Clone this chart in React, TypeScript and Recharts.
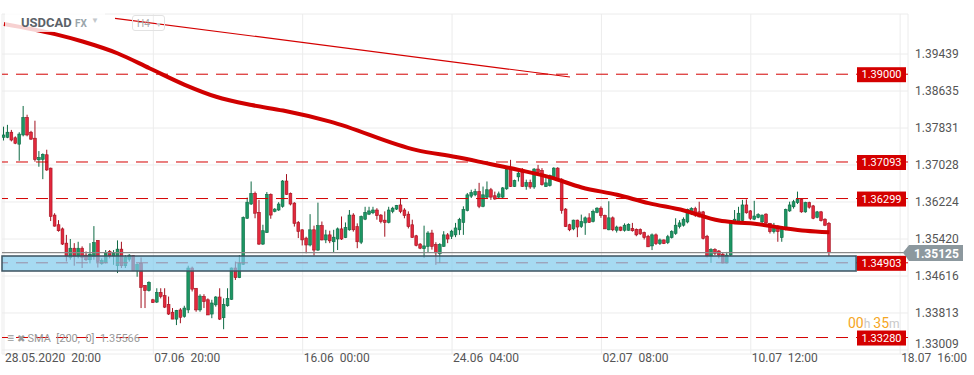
import React from 'react';
import {
  ComposedChart,
  Bar,
  Line,
  XAxis,
  YAxis,
  CartesianGrid,
  ReferenceLine,
  ReferenceArea,
} from 'recharts';

// H4 candles, USDCAD, one entry per bar (weekend bars skipped)
const OPEN = [
  1.3763, 1.3763, 1.3774, 1.3762, 1.3748, 1.3768, 1.3806, 1.3774, 1.3761, 1.3714,
  1.3715, 1.3725, 1.3696, 1.3594, 1.3573, 1.3564, 1.3533, 1.3502, 1.3522, 1.3504,
  1.3522, 1.3507, 1.3497, 1.3504, 1.3539, 1.3489, 1.3491, 1.3515, 1.3505, 1.3484,
  1.3520, 1.3484, 1.3498, 1.3506, 1.3473, 1.3489, 1.3441, 1.3430, 1.3410, 1.3405,
  1.3426, 1.3419, 1.3400, 1.3383, 1.3368, 1.3388, 1.3374, 1.3388, 1.3479, 1.3435,
  1.3388, 1.3417, 1.3410, 1.3379, 1.3399, 1.3416, 1.3371, 1.3397, 1.3411, 1.3479,
  1.3458, 1.3487, 1.3587, 1.3618, 1.3641, 1.3600, 1.3531, 1.3556, 1.3639, 1.3602,
  1.3605, 1.3613, 1.3668, 1.3641, 1.3620, 1.3578, 1.3562, 1.3544, 1.3529, 1.3562,
  1.3518, 1.3571, 1.3540, 1.3551, 1.3536, 1.3542, 1.3564, 1.3545, 1.3562, 1.3594,
  1.3569, 1.3535, 1.3585, 1.3596, 1.3599, 1.3605, 1.3594, 1.3583, 1.3578, 1.3602,
  1.3607, 1.3616, 1.3605, 1.3596, 1.3573, 1.3549, 1.3531, 1.3521, 1.3526, 1.3555,
  1.3530, 1.3510, 1.3526, 1.3551, 1.3548, 1.3551, 1.3562, 1.3578, 1.3604, 1.3635,
  1.3638, 1.3645, 1.3613, 1.3633, 1.3649, 1.3636, 1.3633, 1.3633, 1.3651, 1.3693,
  1.3656, 1.3677, 1.3687, 1.3656, 1.3665, 1.3655, 1.3694, 1.3691, 1.3656, 1.3658,
  1.3677, 1.3696, 1.3672, 1.3607, 1.3573, 1.3564, 1.3583, 1.3569, 1.3577, 1.3588,
  1.3580, 1.3600, 1.3609, 1.3593, 1.3562, 1.3588, 1.3561, 1.3568, 1.3561, 1.3561,
  1.3565, 1.3563, 1.3563, 1.3556, 1.3548, 1.3527, 1.3551, 1.3532, 1.3540, 1.3534,
  1.3545, 1.3554, 1.3569, 1.3572, 1.3579, 1.3598, 1.3608, 1.3601, 1.3601, 1.3548,
  1.3505, 1.3519, 1.3516, 1.3509, 1.3490, 1.3507, 1.3579, 1.3579, 1.3582, 1.3616,
  1.3603, 1.3585, 1.3589, 1.3579, 1.3596, 1.3576, 1.3558, 1.3570, 1.3545, 1.3563,
  1.3603, 1.3612, 1.3621, 1.3628, 1.3601, 1.3621, 1.3614, 1.3589, 1.3601, 1.3585,
  1.3576,
];
const HIGH = [
  1.3786, 1.3790, 1.3779, 1.3765, 1.3774, 1.3831, 1.3812, 1.3777, 1.3799, 1.3733,
  1.3728, 1.3736, 1.3697, 1.3598, 1.3583, 1.3567, 1.3551, 1.3542, 1.3533, 1.3536,
  1.3526, 1.3515, 1.3533, 1.3570, 1.3539, 1.3500, 1.3518, 1.3518, 1.3518, 1.3539,
  1.3536, 1.3507, 1.3509, 1.3507, 1.3489, 1.3502, 1.3442, 1.3450, 1.3412, 1.3435,
  1.3435, 1.3435, 1.3417, 1.3392, 1.3388, 1.3392, 1.3397, 1.3484, 1.3482, 1.3435,
  1.3422, 1.3422, 1.3413, 1.3410, 1.3418, 1.3435, 1.3413, 1.3435, 1.3480, 1.3493,
  1.3507, 1.3591, 1.3632, 1.3667, 1.3645, 1.3627, 1.3573, 1.3644, 1.3641, 1.3609,
  1.3622, 1.3670, 1.3683, 1.3643, 1.3622, 1.3581, 1.3563, 1.3547, 1.3596, 1.3571,
  1.3621, 1.3580, 1.3562, 1.3560, 1.3562, 1.3567, 1.3591, 1.3578, 1.3605, 1.3598,
  1.3576, 1.3593, 1.3612, 1.3612, 1.3612, 1.3609, 1.3596, 1.3602, 1.3612, 1.3612,
  1.3616, 1.3631, 1.3609, 1.3602, 1.3584, 1.3551, 1.3533, 1.3571, 1.3559, 1.3562,
  1.3535, 1.3533, 1.3559, 1.3555, 1.3562, 1.3577, 1.3588, 1.3613, 1.3642, 1.3649,
  1.3651, 1.3664, 1.3656, 1.3667, 1.3653, 1.3645, 1.3645, 1.3655, 1.3696, 1.3714,
  1.3671, 1.3689, 1.3696, 1.3671, 1.3671, 1.3696, 1.3703, 1.3696, 1.3678, 1.3682,
  1.3698, 1.3698, 1.3674, 1.3609, 1.3575, 1.3584, 1.3584, 1.3595, 1.3591, 1.3598,
  1.3606, 1.3611, 1.3613, 1.3595, 1.3624, 1.3591, 1.3571, 1.3569, 1.3576, 1.3576,
  1.3577, 1.3565, 1.3565, 1.3558, 1.3551, 1.3554, 1.3554, 1.3543, 1.3541, 1.3551,
  1.3561, 1.3587, 1.3583, 1.3589, 1.3608, 1.3611, 1.3612, 1.3623, 1.3603, 1.3551,
  1.3522, 1.3522, 1.3518, 1.3512, 1.3514, 1.3583, 1.3605, 1.3612, 1.3627, 1.3628,
  1.3605, 1.3625, 1.3598, 1.3595, 1.3598, 1.3577, 1.3577, 1.3572, 1.3569, 1.3608,
  1.3623, 1.3627, 1.3645, 1.3630, 1.3623, 1.3623, 1.3616, 1.3603, 1.3603, 1.3587,
  1.3579,
];
const LOW = [
  1.3756, 1.3761, 1.3754, 1.3748, 1.3712, 1.3765, 1.3765, 1.3757, 1.3710, 1.3699,
  1.3672, 1.3690, 1.3581, 1.3569, 1.3558, 1.3529, 1.3493, 1.3497, 1.3484, 1.3500,
  1.3479, 1.3494, 1.3489, 1.3497, 1.3480, 1.3486, 1.3489, 1.3500, 1.3486, 1.3468,
  1.3479, 1.3479, 1.3493, 1.3473, 1.3460, 1.3392, 1.3392, 1.3428, 1.3403, 1.3403,
  1.3413, 1.3392, 1.3377, 1.3368, 1.3355, 1.3359, 1.3371, 1.3381, 1.3428, 1.3384,
  1.3384, 1.3392, 1.3377, 1.3370, 1.3395, 1.3366, 1.3346, 1.3395, 1.3410, 1.3453,
  1.3457, 1.3486, 1.3586, 1.3616, 1.3587, 1.3529, 1.3529, 1.3555, 1.3586, 1.3600,
  1.3603, 1.3610, 1.3638, 1.3615, 1.3569, 1.3544, 1.3528, 1.3511, 1.3526, 1.3506,
  1.3516, 1.3539, 1.3533, 1.3533, 1.3513, 1.3518, 1.3540, 1.3544, 1.3560, 1.3558,
  1.3522, 1.3531, 1.3583, 1.3594, 1.3596, 1.3584, 1.3576, 1.3547, 1.3576, 1.3598,
  1.3605, 1.3598, 1.3587, 1.3565, 1.3545, 1.3526, 1.3520, 1.3501, 1.3512, 1.3519,
  1.3486, 1.3490, 1.3525, 1.3533, 1.3542, 1.3546, 1.3551, 1.3551, 1.3602, 1.3631,
  1.3635, 1.3609, 1.3611, 1.3631, 1.3627, 1.3627, 1.3631, 1.3631, 1.3649, 1.3655,
  1.3655, 1.3667, 1.3655, 1.3649, 1.3651, 1.3651, 1.3682, 1.3658, 1.3655, 1.3656,
  1.3674, 1.3669, 1.3597, 1.3568, 1.3559, 1.3561, 1.3546, 1.3566, 1.3551, 1.3577,
  1.3578, 1.3598, 1.3588, 1.3564, 1.3561, 1.3559, 1.3556, 1.3559, 1.3558, 1.3560,
  1.3558, 1.3548, 1.3551, 1.3541, 1.3525, 1.3518, 1.3529, 1.3529, 1.3531, 1.3531,
  1.3543, 1.3551, 1.3565, 1.3569, 1.3576, 1.3594, 1.3590, 1.3589, 1.3541, 1.3502,
  1.3490, 1.3507, 1.3500, 1.3489, 1.3489, 1.3505, 1.3577, 1.3577, 1.3580, 1.3597,
  1.3583, 1.3583, 1.3587, 1.3577, 1.3574, 1.3554, 1.3554, 1.3536, 1.3536, 1.3561,
  1.3601, 1.3608, 1.3618, 1.3599, 1.3599, 1.3608, 1.3585, 1.3587, 1.3580, 1.3570,
  1.3505,
];
const CLOSE = [
  1.3768, 1.3774, 1.3757, 1.3750, 1.3770, 1.3806, 1.3768, 1.3759, 1.3715, 1.3719,
  1.3726, 1.3692, 1.3591, 1.3570, 1.3560, 1.3531, 1.3504, 1.3522, 1.3504, 1.3522,
  1.3502, 1.3497, 1.3509, 1.3534, 1.3493, 1.3495, 1.3511, 1.3505, 1.3511, 1.3520,
  1.3484, 1.3502, 1.3507, 1.3473, 1.3487, 1.3437, 1.3430, 1.3448, 1.3404, 1.3426,
  1.3417, 1.3394, 1.3379, 1.3368, 1.3387, 1.3372, 1.3392, 1.3479, 1.3433, 1.3388,
  1.3418, 1.3406, 1.3377, 1.3403, 1.3416, 1.3368, 1.3400, 1.3413, 1.3479, 1.3458,
  1.3489, 1.3589, 1.3622, 1.3641, 1.3598, 1.3531, 1.3560, 1.3639, 1.3594, 1.3607,
  1.3618, 1.3668, 1.3639, 1.3618, 1.3576, 1.3558, 1.3540, 1.3529, 1.3562, 1.3518,
  1.3571, 1.3540, 1.3551, 1.3538, 1.3546, 1.3564, 1.3542, 1.3567, 1.3594, 1.3562,
  1.3536, 1.3591, 1.3600, 1.3603, 1.3605, 1.3593, 1.3580, 1.3578, 1.3605, 1.3609,
  1.3615, 1.3602, 1.3593, 1.3569, 1.3545, 1.3528, 1.3522, 1.3527, 1.3555, 1.3526,
  1.3512, 1.3530, 1.3551, 1.3542, 1.3559, 1.3566, 1.3584, 1.3606, 1.3638, 1.3643,
  1.3645, 1.3613, 1.3638, 1.3649, 1.3633, 1.3629, 1.3640, 1.3653, 1.3693, 1.3656,
  1.3669, 1.3685, 1.3656, 1.3665, 1.3655, 1.3694, 1.3687, 1.3660, 1.3664, 1.3680,
  1.3696, 1.3671, 1.3604, 1.3569, 1.3562, 1.3583, 1.3568, 1.3580, 1.3588, 1.3578,
  1.3602, 1.3609, 1.3593, 1.3564, 1.3588, 1.3562, 1.3568, 1.3561, 1.3572, 1.3574,
  1.3560, 1.3551, 1.3553, 1.3545, 1.3525, 1.3551, 1.3532, 1.3540, 1.3532, 1.3547,
  1.3558, 1.3572, 1.3577, 1.3585, 1.3606, 1.3608, 1.3594, 1.3590, 1.3543, 1.3505,
  1.3519, 1.3511, 1.3507, 1.3490, 1.3507, 1.3582, 1.3585, 1.3598, 1.3616, 1.3599,
  1.3587, 1.3592, 1.3595, 1.3594, 1.3577, 1.3558, 1.3569, 1.3558, 1.3563, 1.3606,
  1.3616, 1.3623, 1.3628, 1.3601, 1.3621, 1.3611, 1.3587, 1.3601, 1.3582, 1.3572,
  1.35125,
];

// SMA(200) read at a handful of bars
const SMA_AT = [0, 13, 20, 29, 37, 46, 54, 63, 71, 83, 105, 115, 122, 131, 139, 147, 156, 164, 173, 182, 186, 191, 199, 204, 210];
const SMA_VAL = [
  1.4009, 1.3987, 1.3971, 1.3945, 1.3913, 1.3877, 1.3851, 1.3833, 1.3821, 1.3797,
  1.3735, 1.3720, 1.3708, 1.3692, 1.3676, 1.3654, 1.3638, 1.3620, 1.3604, 1.3582,
  1.3578, 1.3575, 1.3565, 1.3560, 1.35566,
];

const LEVELS = [1.39, 1.37093, 1.36299, 1.34903, 1.3328];
const LAST_PRICE = 1.35125;
const ZONE = [1.34725, 1.35051];
const ZONE_END = 216.8;
const TREND = [
  { x: 28.25, y: 1.40215 },
  { x: 144, y: 1.38939 },
];

const X_TICKS = [0, 38, 76, 114, 152, 190, 228];
const X_LABELS = ['28.05.2020  20:00', '07.06  20:00', '16.06  00:00', '24.06  04:00', '02.07  08:00', '10.07  12:00', '18.07  16:00'];
const Y_TICKS = [1.33009, 1.33813, 1.34616, 1.3542, 1.36224, 1.37028, 1.37831, 1.38635, 1.39439];

const rows = OPEN.map((o, i) => {
  const k = SMA_AT.indexOf(i);
  return { i, o, h: HIGH[i], l: LOW[i], c: CLOSE[i], sma: k >= 0 ? SMA_VAL[k] : null };
});

const FONT = 'Roboto, "Noto Sans", sans-serif';
const LEVEL_RED = '#d40000';

const Candle = (props: any) => {
  const { x, y, width, height, payload } = props;
  if (x == null || y == null || !payload) return null;
  const { o, h, l, c } = payload;
  const top = Math.min(y, y + height);
  const span = Math.abs(height);
  const k = h === l ? 0 : span / (h - l);
  const cx = x + width / 2;
  const up = c >= o;
  const bTop = top + (h - Math.max(o, c)) * k;
  const bBot = top + (h - Math.min(o, c)) * k;
  const fill = up ? '#1c9663' : '#e2283c';
  const edge = up ? '#0e6a44' : '#a3111f';
  return (
    <g>
      <line x1={cx} x2={cx} y1={top} y2={top + span} stroke={edge} strokeWidth={1} />
      <rect x={cx - 1.4} y={bTop} width={2.8} height={Math.max(1, bBot - bTop)} fill={fill} stroke={edge} strokeWidth={0.6} />
    </g>
  );
};

const XTick = (props: any) => {
  const { x, y, payload } = props;
  const idx = X_TICKS.indexOf(payload.value);
  return (
    <text x={x + 1} y={y + 8} textAnchor="start" fill="#555" fontSize={12} fontFamily={FONT} style={{ whiteSpace: 'pre' }}>
      {X_LABELS[idx]}
    </text>
  );
};

// lowest price label is nudged up so it clears the time labels
const YTick = (props: any) => {
  const { x, y, payload } = props;
  const lift = payload.value === Y_TICKS[0] ? -6 : 0;
  return (
    <text x={x} y={y + 4 + lift} textAnchor="start" fill="#555" fontSize={12} fontFamily={FONT}>
      {Number(payload.value).toFixed(5)}
    </text>
  );
};

const levelTag = (value: number) => (props: any) => {
  const vb = props.viewBox || {};
  const right = (vb.x || 0) + (vb.width || 0);
  const cy = vb.y || 0;
  return (
    <g>
      <rect x={right - 51} y={cy - 7} width={49} height={15} fill={LEVEL_RED} />
      <text x={right - 26.5} y={cy + 4} textAnchor="middle" fill="#fff" fontSize={11} fontFamily={FONT}>
        {value.toFixed(5)}
      </text>
    </g>
  );
};

const priceTag = (props: any) => {
  const vb = props.viewBox || {};
  const right = (vb.x || 0) + (vb.width || 0);
  const cy = vb.y || 0;
  return (
    <g>
      <polygon
        points={`${right - 5},${cy} ${right + 1},${cy - 7.5} ${right + 55},${cy - 7.5} ${right + 55},${cy + 8.5} ${right + 1},${cy + 8.5}`}
        fill="#8c989e"
      />
      <text x={right + 6} y={cy + 5} fill="#fff" fontSize={12} fontWeight="bold" fontFamily={FONT}>
        {LAST_PRICE.toFixed(5)}
      </text>
    </g>
  );
};

export default function App() {
  return (
    <div style={{ position: 'absolute', left: 0, top: 0, width: 974, height: 375, background: '#fff', fontFamily: FONT, overflow: 'hidden' }}>
      <ComposedChart width={974} height={375} data={rows} margin={{ top: 14, right: 0, bottom: 0, left: 2 }}>
        <CartesianGrid stroke="#ececec" strokeWidth={1} />
        <XAxis
          dataKey="i"
          type="number"
          domain={[-0.5, 230]}
          allowDataOverflow
          ticks={X_TICKS}
          tick={<XTick />}
          axisLine={false}
          tickLine={false}
          tickSize={0}
          tickMargin={0}
          height={21}
          interval={0}
        />
        <YAxis
          orientation="right"
          type="number"
          domain={[1.32922, 1.40308]}
          allowDataOverflow
          ticks={Y_TICKS}
          tick={<YTick />}
          axisLine={false}
          tickLine={false}
          tickSize={0}
          tickMargin={7}
          width={66}
          interval={0}
        />
        {LEVELS.map((lv) => (
          <ReferenceLine
            key={lv}
            y={lv}
            stroke={LEVEL_RED}
            strokeWidth={1}
            strokeDasharray="12 8"
            label={levelTag(lv)}
          />
        ))}
        <ReferenceLine segment={TREND} stroke={LEVEL_RED} strokeWidth={1.2} ifOverflow="visible" />
        <Bar dataKey={(d: any) => [d.l, d.h]} barSize={3} shape={Candle} isAnimationActive={false} />
        <Line
          dataKey="sma"
          type="monotone"
          stroke="#d00000"
          strokeWidth={4}
          dot={false}
          connectNulls
          isAnimationActive={false}
        />
        <ReferenceArea
          y1={ZONE[0]}
          y2={ZONE[1]}
          x2={ZONE_END}
          fill="rgb(128,202,236)"
          fillOpacity={0.7}
          stroke="#3d5360"
          strokeWidth={1.5}
          zIndex={450}
        />
        <ReferenceLine y={LAST_PRICE} stroke="#8a8a8a" strokeWidth={1.2} label={priceTag} />
      </ComposedChart>

      <div style={{ position: 'absolute', left: 5, top: 13, width: 100, height: 19, background: 'rgba(255,255,255,0.82)' }} />
      <div style={{ position: 'absolute', left: 21, top: 15, fontSize: 13, fontWeight: 'bold', color: '#5b6268' }}>USDCAD</div>
      <div style={{ position: 'absolute', left: 75, top: 18, fontSize: 10, fontWeight: 'bold', color: '#9ba5ab' }}>FX</div>
      <div style={{ position: 'absolute', left: 91, top: 16, fontSize: 8, color: '#c3c8cc' }}>▼</div>
      <div
        style={{
          position: 'absolute',
          left: 132,
          top: 15,
          width: 33,
          height: 16,
          border: '1px solid #e2e2e2',
          borderRadius: 3,
          fontSize: 10,
          color: '#a8a8a8',
          lineHeight: '16px',
          paddingLeft: 4,
          boxSizing: 'border-box',
        }}
      >
        H4 <span style={{ fontSize: 7, color: '#c3c8cc', marginLeft: 3 }}>▼</span>
      </div>

      <div style={{ position: 'absolute', left: 7, top: 331, fontSize: 11, color: '#9a9a9a', whiteSpace: 'pre' }}>
        <span style={{ fontSize: 12 }}>≡</span> <span style={{ fontSize: 10 }}>✖</span> SMA  [200,  0]  1.35566
      </div>
      <div style={{ position: 'absolute', left: 848, top: 315, whiteSpace: 'pre', lineHeight: '16px' }}>
        <span style={{ color: '#f5a623', fontSize: 14 }}>00</span>
        <span style={{ color: '#c8c8c8', fontSize: 12 }}>h </span>
        <span style={{ color: '#f5a623', fontSize: 14 }}>35</span>
        <span style={{ color: '#c8c8c8', fontSize: 12 }}>m</span>
      </div>
    </div>
  );
}
